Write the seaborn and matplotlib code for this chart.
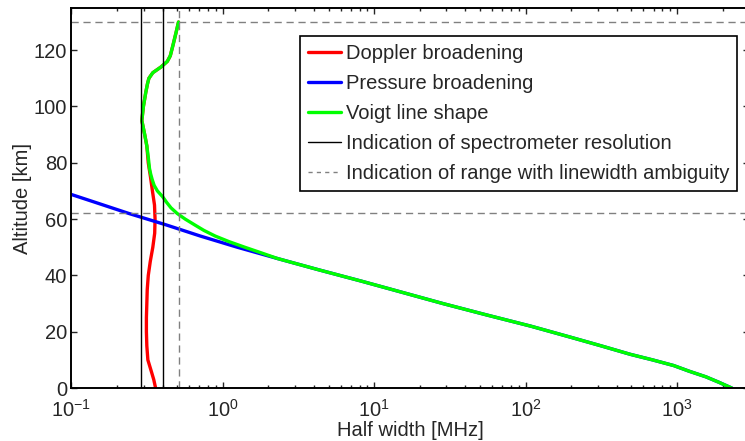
import matplotlib
matplotlib.use('Agg')
import matplotlib.pyplot as plt
from matplotlib.lines import Line2D
from matplotlib.ticker import LogLocator, NullFormatter
import seaborn as sns

# Line widths, altitude in km, widths in MHz
doppler_alt = [0, 3, 6, 10, 15, 20, 25, 30, 35, 40, 45, 50, 55, 60, 65, 70, 75, 80, 86, 90, 95,
               100, 105, 108, 110, 112, 114, 116, 118, 122, 126, 130]
doppler_width = [0.36, 0.35, 0.337, 0.32, 0.315, 0.313, 0.313, 0.315, 0.317, 0.322, 0.332, 0.345,
                 0.355, 0.357, 0.354, 0.343, 0.333, 0.322, 0.315, 0.305, 0.292,
                 0.299, 0.31, 0.318, 0.325, 0.345, 0.39, 0.43, 0.45, 0.47, 0.49, 0.51]

pressure_alt = [0, 2, 4, 6, 8, 10, 12, 15, 18, 22, 26, 30, 34, 38, 42, 46, 50, 54, 58, 62, 66, 70, 72]
pressure_width = [2300, 1900, 1550, 1200, 950, 690, 490, 315, 200, 108, 55, 28.5, 15.3, 8.2, 4.3,
                  2.3, 1.25, 0.71, 0.42, 0.24, 0.143, 0.085, 0.065]

voigt_alt = [0, 2, 4, 6, 8, 10, 12, 15, 18, 22, 26, 30, 34, 38, 42, 46, 48, 50, 52, 54, 56, 58, 60,
             62, 64, 66, 68, 70, 72, 74, 76, 78, 80, 82, 86, 90, 95, 100, 105, 108, 110, 112, 114,
             116, 118, 122, 126, 130]
voigt_width = [2300, 1900, 1550, 1200, 950, 690, 490, 315, 200, 108, 55, 28.5, 15.3, 8.2, 4.3, 2.3,
               1.8, 1.4, 1.1, 0.89, 0.75, 0.65, 0.565, 0.50, 0.455, 0.425, 0.40, 0.37, 0.352, 0.342,
               0.334, 0.328, 0.325, 0.322, 0.315, 0.305, 0.292, 0.299, 0.31, 0.318, 0.325, 0.345,
               0.39, 0.43, 0.45, 0.47, 0.49, 0.51]

resolution = [0.29, 0.40]       # spectrometer resolution (MHz)
ambiguity_width = 0.51          # MHz
ambiguity_alt = [62, 130]       # km

labels = ['Doppler broadening', 'Pressure broadening', 'Voigt line shape',
          'Indication of spectrometer resolution', 'Indication of range with linewidth ambiguity']

sns.set_style('ticks')
plt.rcParams['font.family'] = ['Liberation Sans', 'DejaVu Sans']
plt.rcParams['mathtext.default'] = 'regular'
fs = 14.5
plt.rcParams['font.size'] = fs

fig = plt.figure(figsize=(7.45, 4.41), dpi=100)
ax = fig.add_axes([0.0958, 0.120, 0.91, 0.862])

lw = 2.4
sns.lineplot(x=doppler_width, y=doppler_alt, sort=False, estimator=None, color='#ff0000', lw=lw, ax=ax)
sns.lineplot(x=pressure_width, y=pressure_alt, sort=False, estimator=None, color='#0000ff', lw=lw, ax=ax)
sns.lineplot(x=voigt_width, y=voigt_alt, sort=False, estimator=None, color='#00ff00', lw=lw, ax=ax)

dash = (0, (5.2, 3.4))
for r in resolution:
    ax.axvline(r, color='black', lw=1.0)
ax.axvline(ambiguity_width, color='#808080', lw=1.0, ls=dash)
for a in ambiguity_alt:
    ax.axhline(a, color='#808080', lw=1.0, ls=dash)

ax.set_xscale('log')
ax.set_xlim(0.1, 3000)
ax.set_ylim(0, 135)
ax.set_yticks([0, 20, 40, 60, 80, 100, 120])
ax.xaxis.set_minor_locator(LogLocator(base=10, subs=range(2, 10), numticks=20))
ax.xaxis.set_minor_formatter(NullFormatter())
ax.tick_params(which='both', direction='in', top=True, right=True, width=1.0, labelsize=fs)
ax.tick_params(which='major', length=4.5)
ax.tick_params(which='minor', length=2.3)
ax.tick_params(axis='x', pad=8)
ax.tick_params(axis='y', pad=3)
for s in ax.spines.values():
    s.set_linewidth(1.4)
    s.set_color('black')

ax.set_xlabel('Half width [MHz]', fontsize=fs, labelpad=0)
ax.set_ylabel('Altitude [km]', fontsize=fs, labelpad=1)

handles = [
    Line2D([], [], color='#ff0000', lw=lw),
    Line2D([], [], color='#0000ff', lw=lw),
    Line2D([], [], color='#00ff00', lw=lw),
    Line2D([], [], color='black', lw=1.0),
    Line2D([], [], color='#808080', lw=1.0, ls=(0, (3, 3))),
]
leg = ax.legend(handles, labels, loc='upper right', bbox_to_anchor=(0.982, 0.927),
                borderaxespad=0, fontsize=fs, frameon=True, fancybox=False,
                handlelength=1.6, handletextpad=0.25, borderpad=0.4, labelspacing=0.55)
leg.get_frame().set_edgecolor('black')
leg.get_frame().set_linewidth(1.2)
leg.get_frame().set_alpha(1)

fig.savefig('out.png', dpi=100)
